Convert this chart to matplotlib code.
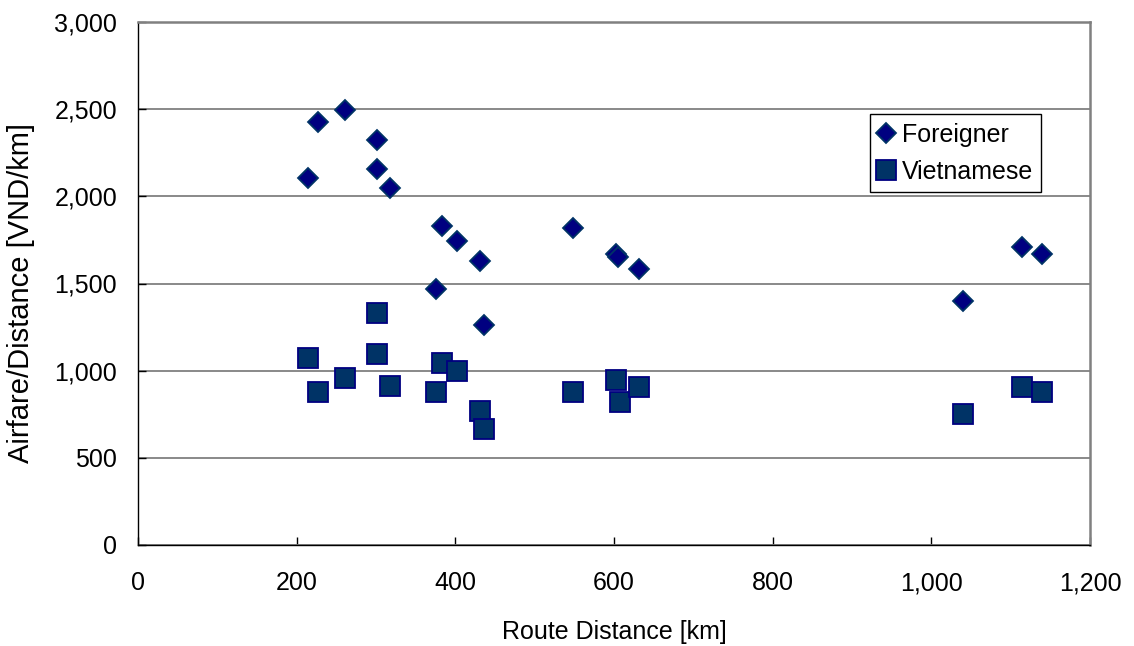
import matplotlib.pyplot as plt
from matplotlib.ticker import FuncFormatter, MultipleLocator

plt.rcParams["font.family"] = ["Liberation Sans", "DejaVu Sans"]

# route distance [km] and airfare per km [VND/km]
foreigner_x = [214, 227, 261, 301, 301, 318, 383, 402, 376, 431, 436, 548, 603, 605, 632, 1040, 1114, 1140]
foreigner_y = [2105, 2426, 2493, 2323, 2157, 2048, 1830, 1744, 1469, 1629, 1262, 1818, 1669, 1652, 1583, 1400, 1709, 1669]

vietnamese_x = [214, 227, 261, 301, 301, 318, 383, 402, 376, 431, 436, 548, 603, 608, 632, 1040, 1114, 1140]
vietnamese_y = [1073, 878, 958, 1331, 1096, 912, 1044, 998, 878, 769, 665, 878, 946, 820, 906, 750, 906, 878]

fig = plt.figure(figsize=(11.34, 6.46), dpi=100)
ax = fig.add_axes([138 / 1134, 101 / 646, 952 / 1134, 523 / 646])

ax.plot(foreigner_x, foreigner_y, linestyle="none", marker="D", markersize=10,
        markerfacecolor="#000080", markeredgecolor="#003366", markeredgewidth=1.3,
        label="Foreigner", zorder=3)
ax.plot(vietnamese_x, vietnamese_y, linestyle="none", marker="s", markersize=14.5,
        markerfacecolor="#003366", markeredgecolor="#000080", markeredgewidth=1.3,
        label="Vietnamese", zorder=3)

ax.set_xlim(0, 1200)
ax.set_ylim(0, 3000)
ax.xaxis.set_major_locator(MultipleLocator(200))
ax.yaxis.set_major_locator(MultipleLocator(500))
fmt = FuncFormatter(lambda v, p: f"{int(v):,}")
ax.xaxis.set_major_formatter(fmt)
ax.yaxis.set_major_formatter(fmt)

ax.grid(axis="y", color="#808080", linewidth=1.3)
ax.set_axisbelow(True)
for s in ["top", "right"]:
    ax.spines[s].set_color("#808080")
    ax.spines[s].set_linewidth(1.8)
for s in ["left", "bottom"]:
    ax.spines[s].set_color("black")
    ax.spines[s].set_linewidth(1.0)

ax.tick_params(axis="both", direction="in", length=6, width=1, labelsize=18)
ax.tick_params(axis="x", pad=19)
ax.tick_params(axis="y", pad=15)
ax.set_xlabel("Route Distance [km]", fontsize=18)
ax.set_ylabel("Airfare/Distance [VND/km]", fontsize=21)
ax.xaxis.set_label_coords(0.5, -0.143)
ax.yaxis.set_label_coords(-0.108, 0.482)

leg = ax.legend(loc="upper left", bbox_to_anchor=(0.769, 0.824), borderaxespad=0,
                fontsize=18, frameon=True, fancybox=False, edgecolor="black",
                framealpha=1, handletextpad=0.36, borderpad=0.34, labelspacing=0.52,
                handlelength=0.56)
leg.get_frame().set_linewidth(1.0)

fig.savefig("out.png", dpi=100)
